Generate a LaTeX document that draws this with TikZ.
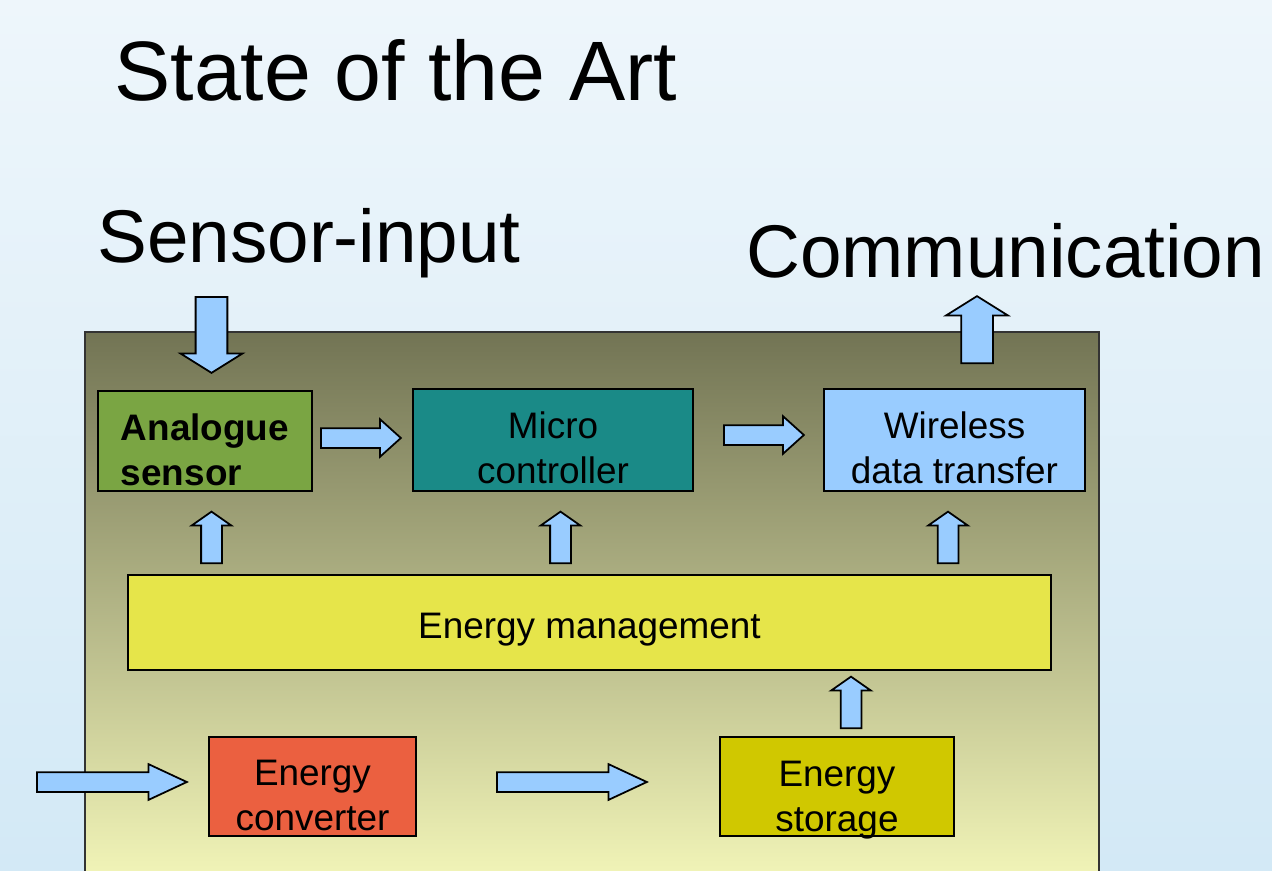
\documentclass[tikz,border=0pt]{standalone}
\usepackage{fontspec}
\setmainfont{Liberation Sans}
\usetikzlibrary{shapes.arrows}

\definecolor{skytop}{HTML}{EEF6FB}
\definecolor{skybottom}{HTML}{D3E9F6}
\definecolor{boardtop}{HTML}{727454}
\definecolor{boardbottom}{HTML}{F2F5B8}
\definecolor{leafgreen}{HTML}{7AA543}
\definecolor{teal}{HTML}{1A8A87}
\definecolor{paleblue}{HTML}{99CCFF}
\definecolor{lemon}{HTML}{E6E54A}
\definecolor{brick}{HTML}{EB6040}
\definecolor{olive}{HTML}{D0C800}

% pushes a box label down by giving its first line extra height
\newcommand{\sinkto}[1]{\rule{0pt}{#1}}

\begin{document}
\begin{tikzpicture}[
    x=0.02cm, y=-0.02cm,
    box/.style = {rectangle, draw=black, line width=1pt, align=center, inner sep=2pt, font=\fontsize{21}{25.5}\selectfont},
    heading/.style = {anchor=base west, inner sep=0pt, font=\fontsize{42.5}{50}\selectfont},
    flow/.style = {single arrow, draw=black, fill=paleblue, line width=1pt, inner xsep=0pt, minimum width=0pt, anchor=tail},
    link/.style = {flow, inner ysep=0.18cm, single arrow head extend=0.18cm, single arrow tip angle=84, minimum height=1.6cm},
    feed/.style = {flow, inner ysep=0.18cm, single arrow head extend=0.16cm, single arrow tip angle=50, minimum height=3cm},
    riser/.style = {flow, rotate=90, inner ysep=0.19cm, single arrow head extend=0.19cm, single arrow tip angle=110, minimum height=1.03cm},
    port/.style = {flow, inner ysep=0.3cm, single arrow head extend=0.3cm, single arrow tip angle=116}]

    \useasboundingbox (0,0) rectangle (1272,870);
    \shade[top color=skytop, bottom color=skybottom] (0,0) rectangle (1272,870);

    % headings
    \node[heading, font=\fontsize{48}{56}\selectfont] (title) at (114,100) {State of the Art};
    \node[heading] (input) at (97,262) {Sensor-input};
    \node[heading] (comm) at (746,277) {Communication};

    % the node board
    \draw[draw=black!80, line width=1pt, top color=boardtop, bottom color=boardbottom] (85,332) rectangle (1099,880);

    \node[box, fill=leafgreen, minimum width=4.28cm, minimum height=2cm, align=left, font=\fontsize{21}{25.5}\selectfont\bfseries] (sensor) at (205,441) {\sinkto{25pt}Analogue\\sensor};
    \node[box, fill=teal, minimum width=5.6cm, minimum height=2.04cm] (mcu) at (553,440) {\sinkto{24pt}Micro\\controller};
    \node[box, fill=paleblue, minimum width=5.22cm, minimum height=2.04cm] (radio) at (954.5,440) {\sinkto{24pt}Wireless\\data transfer};
    \node[box, fill=lemon, minimum width=18.46cm, minimum height=1.9cm] (manage) at (589.5,622.5) {\sinkto{22pt}Energy management};
    \node[box, fill=brick, minimum width=4.14cm, minimum height=1.98cm] (convert) at (312.5,786.5) {\sinkto{25pt}Energy\\converter};
    \node[box, fill=olive, minimum width=4.68cm, minimum height=1.98cm] (store) at (837,786.5) {\sinkto{26pt}Energy\\\smash{storage}};

    % block arrows
    \node[port, rotate=-90, minimum height=1.52cm] (in) at (211.5,296) {};
    \node[port, rotate=90, minimum height=1.34cm] (out) at (977,364) {};
    \node[link] (s2m) at (320,438) {};
    \node[link] (m2r) at (723,435) {};
    \node[riser] (p1) at (211.5,564) {};
    \node[riser] (p2) at (560.5,564) {};
    \node[riser] (p3) at (948,564) {};
    \node[riser] (p4) at (851,729) {};
    \node[feed] (harvest) at (36,782) {};
    \node[feed] (charge) at (496,782) {};
\end{tikzpicture}
\end{document}
